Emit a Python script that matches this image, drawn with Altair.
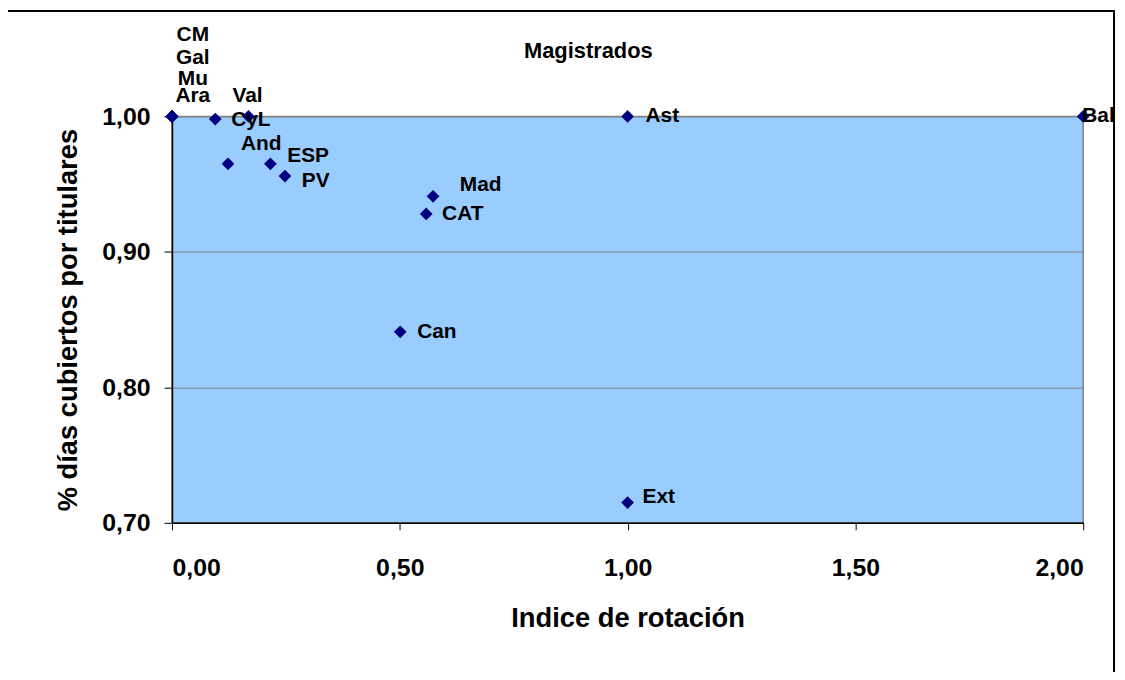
import altair as alt
import pandas as pd

# Data
regions = ["CM", "Gal", "Mu", "Ara", "Val", "CyL", "And", "ESP", "PV",
           "Mad", "CAT", "Can", "Ast", "Ext", "Bal"]
rotacion = [0.00, 0.00, 0.00, 0.00, 0.168, 0.095, 0.123, 0.216, 0.248,
            0.573, 0.558, 0.501, 1.00, 1.00, 2.00]
titulares = [1.000, 1.000, 1.000, 1.000, 1.000, 0.998, 0.965, 0.965, 0.956,
             0.941, 0.928, 0.841, 1.000, 0.715, 1.000]

x_ticks = [0.0, 0.5, 1.0, 1.5, 2.0]
y_ticks = [0.7, 0.8, 0.9, 1.0]
chart_title = "Magistrados"

df = pd.DataFrame({"region": regions, "x": rotacion, "y": titulares})

FONT = "Liberation Sans"
fmt = "replace(format(datum.value, '.2f'), '.', ',')"

# label placement style (pixel offsets, align)
label_style = {
    "CM": (21, -82, "center"), "Gal": (21, -59, "center"),
    "Mu": (21, -38, "center"), "Ara": (21, -20, "center"),
    "Val": (-1, -20, "center"), "CyL": (16, 1, "left"),
    "And": (13, -20, "left"), "ESP": (17, -8, "left"),
    "PV": (17, 5, "left"), "Mad": (27, -11, "left"),
    "CAT": (16, 0, "left"), "Can": (17, 0, "left"),
    "Ast": (18, 0, "left"), "Ext": (15, -6, "left"),
    "Bal": (-1, 0, "left"),
}

xs = alt.Scale(domain=[0, 2], nice=False, zero=False)
ys = alt.Scale(domain=[0.7, 1.0], nice=False, zero=False)

base = alt.Chart(df)

points = base.mark_point(shape="diamond", filled=True, size=165,
                         color="#000080", opacity=1).encode(
    x=alt.X("x:Q", scale=xs, axis=alt.Axis(
        values=x_ticks, labelExpr=fmt, title="Indice de rotación",
        grid=False, domainColor="black", domainWidth=1.5,
        tickColor="black", tickSize=7, labelPadding=26,
        labelFont=FONT, labelFontSize=25, labelFontWeight="bold",
        labelColor="black", titleFont=FONT, titleFontSize=27.5,
        titleFontWeight="bold", titleColor="black",
        titleX=458.5, titleY=96, titleBaseline="middle", titleAlign="center")),
    y=alt.Y("y:Q", scale=ys, axis=alt.Axis(
        values=y_ticks, labelExpr=fmt, title="% días cubiertos por titulares",
        grid=True, gridColor="#808080", gridWidth=1,
        domainColor="black", domainWidth=1.5,
        tickColor="black", tickSize=8, labelPadding=14,
        labelFont=FONT, labelFontSize=25, labelFontWeight="bold",
        labelColor="black", titleFont=FONT, titleFontSize=27.5,
        titleFontWeight="bold", titleColor="black",
        titleX=-104, titleY=204.5, titleAngle=-90,
        titleBaseline="middle", titleAlign="center")),
)

label_layers = []
for name, (dx, dy, align) in label_style.items():
    label_layers.append(
        base.transform_filter(alt.datum.region == name).mark_text(
            dx=dx, dy=dy, align=align, baseline="middle", font=FONT,
            fontSize=21, fontWeight="bold", color="black").encode(
            x=alt.X("x:Q", scale=xs), y=alt.Y("y:Q", scale=ys),
            text="region:N")
    )

one = alt.Chart(pd.DataFrame({"t": [chart_title]}))

frame = one.mark_rect(fillOpacity=0, fill="white", stroke="black",
                      strokeWidth=2).encode(
    x=alt.value(-166), x2=alt.value(948), y=alt.value(-106), y2=alt.value(600))

title = one.mark_text(font=FONT, fontSize=22, fontWeight="bold",
                      color="black", align="center", baseline="middle").encode(
    x=alt.value(419), y=alt.value(-66), text="t:N")

chart = alt.layer(frame, title, points, *label_layers).properties(
    width=917, height=409,
    autosize=alt.AutoSizeParams(type="none"),
    padding={"left": 165, "top": 107, "right": 34, "bottom": 148},
).configure_view(fill="#99CCFF", stroke="#808080", strokeWidth=1.5)

chart.save("out.html", embed_options={"renderer": "svg", "actions": False})
